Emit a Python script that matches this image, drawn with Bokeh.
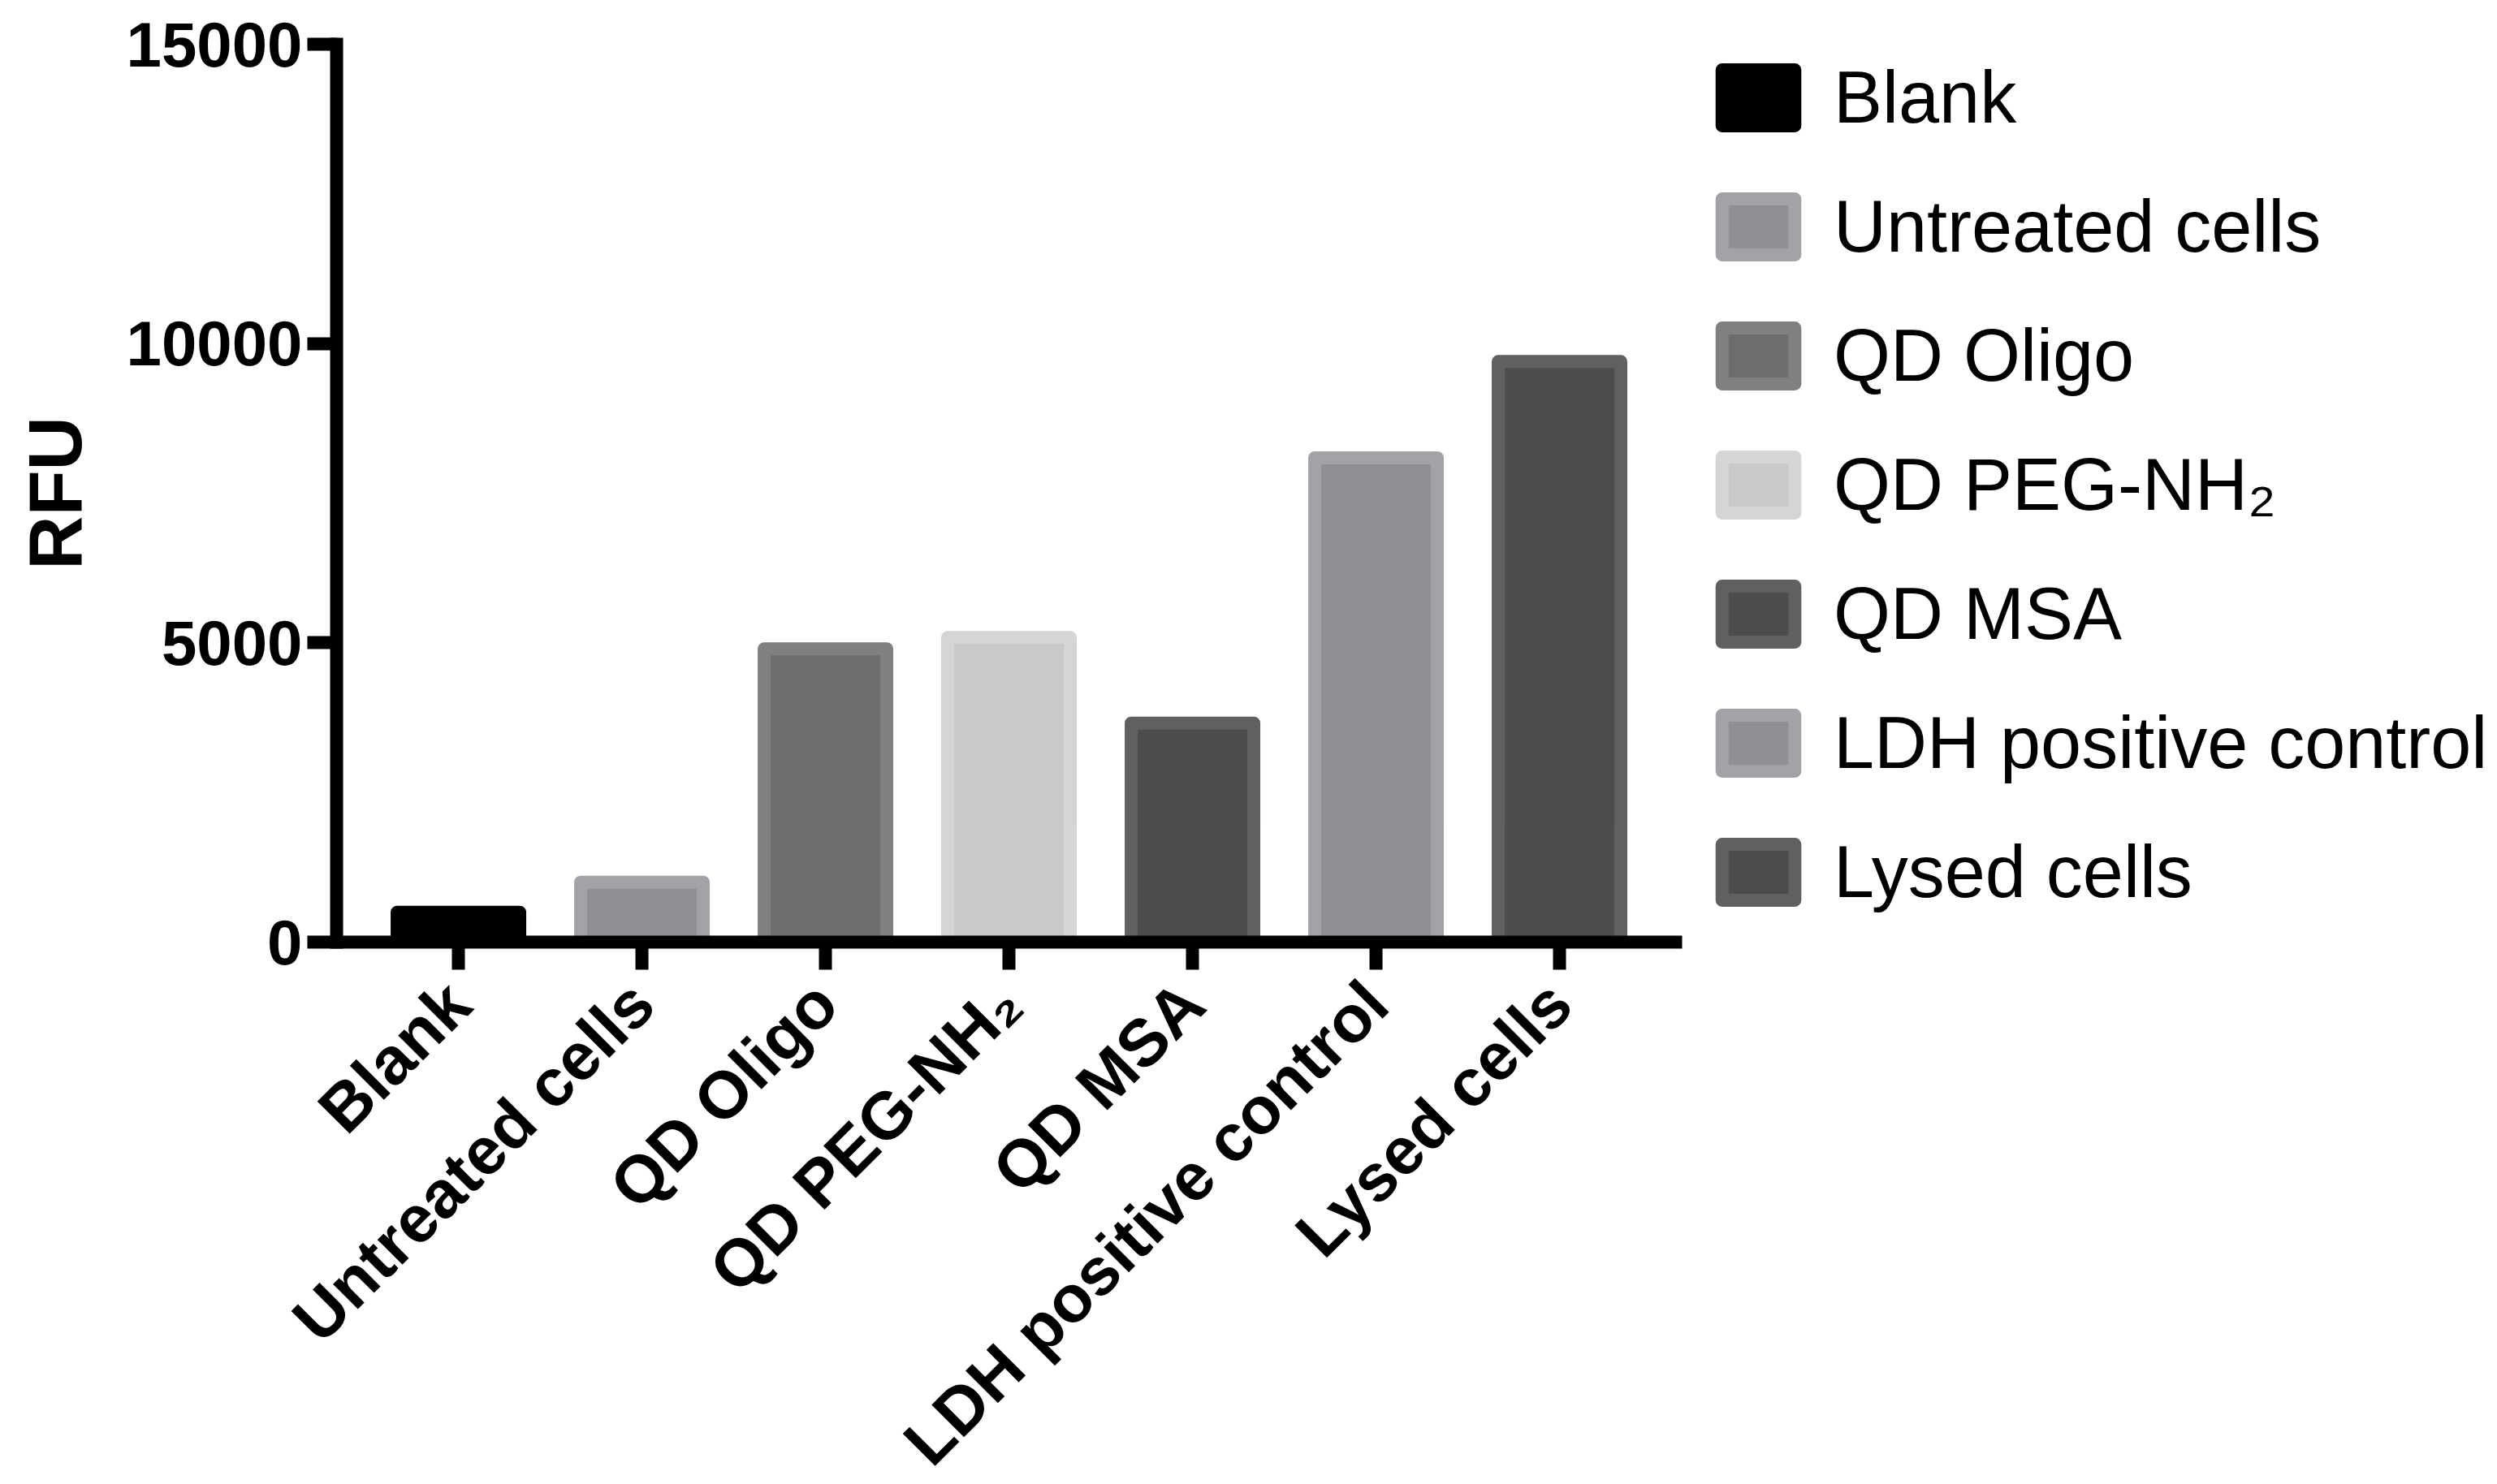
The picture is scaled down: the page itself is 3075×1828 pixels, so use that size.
import math
from bokeh.plotting import figure
from bokeh.models import Range1d, FixedTicker, Legend, LegendItem, ColumnDataSource
from bokeh.embed import file_html
from bokeh.resources import INLINE

# ---- data ----
categories = ["Blank", "Untreated cells", "QD Oligo", "QD PEG-NH\u2082", "QD MSA",
              "LDH positive control", "Lysed cells"]
rfu = [500, 1000, 4900, 5090, 3660, 8090, 9700]
fill_colors = ["#000000", "#918f94", "#6d6d6d", "#c9c9c9", "#4d4d4d", "#918f94", "#4d4d4d"]
line_colors = ["#000000", "#a3a2a7", "#808080", "#d5d5d5", "#606060", "#a3a2a7", "#606060"]
y_ticks = [0, 5000, 10000, 15000]
positions = list(range(len(categories)))

source = ColumnDataSource(dict(x=positions, top=rfu, fill=fill_colors, line=line_colors,
                               label=categories))

p = figure(frame_width=1657, frame_height=1106,
           min_border_left=414, min_border_top=54, min_border_right=1004, min_border_bottom=660,
           x_range=Range1d(-0.664, 6.668), y_range=Range1d(0, 15000),
           output_backend="svg", toolbar_location=None)
p.outline_line_color = None
p.xgrid.visible = False
p.ygrid.visible = False
p.background_fill_color = "white"
p.border_fill_color = "white"

r = p.vbar(x="x", top="top", bottom=0, width=0.668, source=source,
           fill_color="fill", line_color="line", line_width=16, line_join="round")

# y axis
ya = p.yaxis[0]
ya.ticker = FixedTicker(ticks=y_ticks)
ya.axis_line_width = 16
ya.axis_line_color = "black"
ya.axis_line_cap = "square"
ya.major_tick_line_width = 16
ya.major_tick_line_color = "black"
ya.major_tick_out = 36
ya.major_tick_in = 0
ya.minor_tick_line_color = None
ya.major_label_text_font = "Liberation Sans"
ya.major_label_text_font_style = "bold"
ya.major_label_text_font_size = "78px"
ya.major_label_text_color = "black"
ya.major_label_standoff = 6
ya.axis_label = "RFU"
ya.axis_label_text_font = "Liberation Sans"
ya.axis_label_text_font_style = "bold"
ya.axis_label_text_font_size = "92px"
ya.axis_label_text_color = "black"
ya.axis_label_standoff = 34

# x axis
xa = p.xaxis[0]
xa.ticker = FixedTicker(ticks=positions)
xa.major_label_overrides = {i: c for i, c in zip(positions, categories)}
xa.major_label_orientation = math.pi / 4
xa.axis_line_width = 16
xa.axis_line_color = "black"
xa.major_tick_line_width = 16
xa.major_tick_line_color = "black"
xa.major_tick_out = 34
xa.major_tick_in = 0
xa.minor_tick_line_color = None
xa.major_label_text_font = "Liberation Sans"
xa.major_label_text_font_style = "bold"
xa.major_label_text_font_size = "82px"
xa.major_label_text_color = "black"
xa.major_label_standoff = 28

# legend
items = [LegendItem(label=c, renderers=[r], index=i) for i, c in enumerate(categories)]
legend = Legend(items=items, location=(38, 34), orientation="vertical",
                glyph_width=112, glyph_height=86, label_height=104, spacing=55,
                label_standoff=37, padding=0, margin=0,
                label_text_font="Liberation Sans", label_text_font_size="90px",
                label_text_color="black",
                border_line_color=None, background_fill_alpha=0)
p.add_layout(legend, "right")

open("out.html", "w").write(file_html(p, INLINE))
